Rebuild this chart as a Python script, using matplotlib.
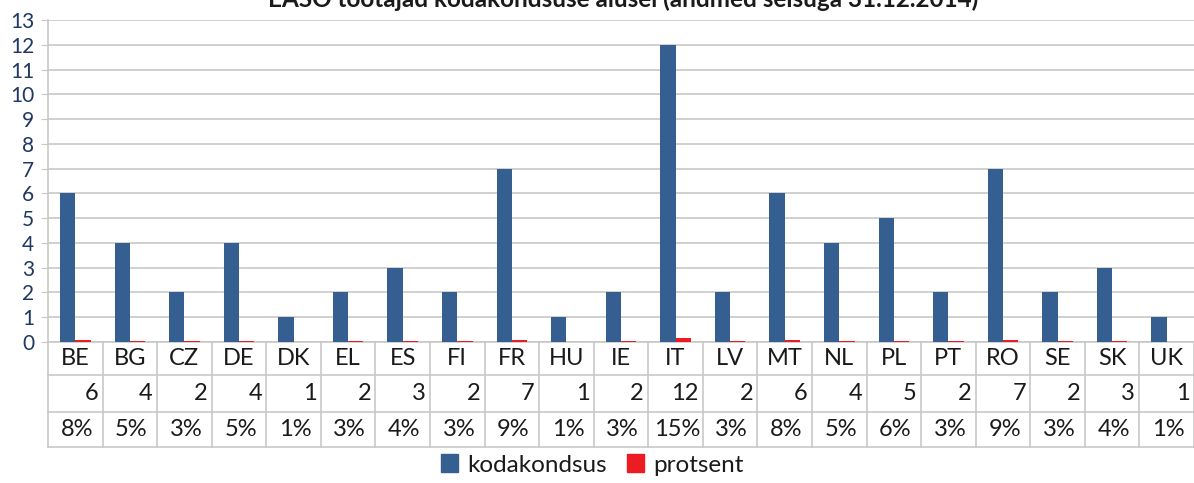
import matplotlib
matplotlib.use("Agg")
import matplotlib.pyplot as plt
import matplotlib.transforms as mtransforms
from matplotlib.patches import Patch
import numpy as np

# Data
countries = ["BE", "BG", "CZ", "DE", "DK", "EL", "ES", "FI", "FR", "HU", "IE",
             "IT", "LV", "MT", "NL", "PL", "PT", "RO", "SE", "SK", "UK"]
kodakondsus = [6, 4, 2, 4, 1, 2, 3, 2, 7, 1, 2, 12, 2, 6, 4, 5, 2, 7, 2, 3, 1]
protsent = [0.08, 0.05, 0.03, 0.05, 0.01, 0.03, 0.04, 0.03, 0.09, 0.01, 0.03,
            0.15, 0.03, 0.08, 0.05, 0.06, 0.03, 0.09, 0.03, 0.04, 0.01]
title = "EASO töötajad kodakondsuse alusel (andmed seisuga 31.12.2014)"

blue = "#365f91"
red = "#ed1c24"
grid_c = "#c8c8c8"
tick_c = "#1f3864"
txt_c = "#1a1a1a"

plt.rcParams["font.family"] = ["Lato", "DejaVu Sans"]

W, H = 1194, 483
fig = plt.figure(figsize=(W / 100, H / 100), dpi=100)
x0, y_top, y_zero = 48, 20, 342
ax = fig.add_axes([x0 / W, 1 - y_zero / H, 1 - x0 / W, (y_zero - y_top) / H])

x = np.arange(len(countries))
bw = 0.28
ax.bar(x - bw / 2, kodakondsus, bw, color=blue, zorder=3)
ax.bar(x + bw / 2, protsent, bw, color=red, zorder=3)

ax.set_xlim(-0.5, len(countries) - 0.5)
ax.set_ylim(0, 13)
ax.set_yticks(range(14))
ax.yaxis.grid(True, color=grid_c, lw=1.2)
ax.set_axisbelow(True)
ax.set_xticks([])
ax.tick_params(axis="y", length=5, color=grid_c, labelsize=15, labelcolor=tick_c, pad=5)
for s in ["top", "right"]:
    ax.spines[s].set_visible(False)
ax.spines["left"].set_color(grid_c)
ax.spines["left"].set_linewidth(1.2)
ax.spines["bottom"].set_color(grid_c)
ax.spines["bottom"].set_linewidth(1.2)

# data table below the axis
trans = mtransforms.blended_transform_factory(ax.transData, fig.transFigure)
rows_px = [342, 375, 412, 447]
rows = [1 - r / H for r in rows_px]
for r in rows[1:]:
    ax.plot([-0.5, len(countries) - 0.5], [r, r], transform=trans, color=grid_c,
            lw=1.2, clip_on=False)
for i in range(len(countries) + 1):
    ax.plot([i - 0.5, i - 0.5], [rows[0], rows[-1]], transform=trans, color=grid_c,
            lw=1.2, clip_on=False)
for i, c in enumerate(countries):
    ax.text(i, (rows[0] + rows[1]) / 2, c, transform=trans, ha="center", va="center",
            fontsize=17, color=txt_c)
    ax.text(i + 0.42, (rows[1] + rows[2]) / 2, str(kodakondsus[i]), transform=trans,
            ha="right", va="center", fontsize=17, color=txt_c)
    ax.text(i + 0.03, (rows[2] + rows[3]) / 2, f"{protsent[i] * 100:.0f}%", transform=trans,
            ha="center", va="center", fontsize=17, color=txt_c)

# clipped title at top
fig.text(0.522, 1 - 7 / H, title, ha="center", va="baseline", fontsize=17.5,
         fontweight="bold", color=txt_c)

handles = [Patch(color=blue, label="kodakondsus"), Patch(color=red, label="protsent")]
fig.legend(handles=handles, loc="center", bbox_to_anchor=(0.496, 1 - 465 / H), ncol=2,
           frameon=False, fontsize=17.5, handlelength=0.7, handleheight=0.7,
           handletextpad=0.4, columnspacing=0.8, labelcolor=txt_c)

fig.savefig("out.png", dpi=100)
